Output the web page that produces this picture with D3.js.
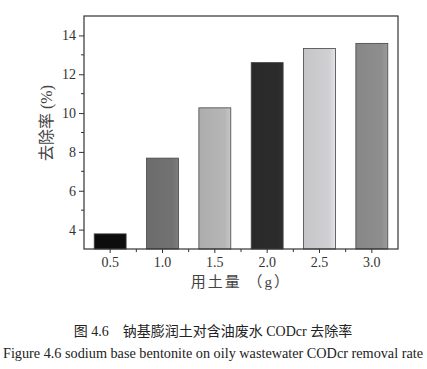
<!DOCTYPE html>
<html><head><meta charset="utf-8">
<script src="https://cdn.jsdelivr.net/npm/d3@7"></script>
<style>body{margin:0;background:#fff}svg{display:block}</style>
</head><body>
<script>
const categories = ["0.5","1.0","1.5","2.0","2.5","3.0"];
const values = [3.78, 7.68, 10.27, 12.6, 13.33, 13.59];
const barColors = ["#0d0d0d","#727272","#b6b6b6","#2b2b2b","#d0d0d3","#8e8e8e"];
const yTicks = [4,6,8,10,12,14];
const yLabel = "去除率 (%)";
const xLabel = "用土量 （g）";
const caption1 = "图 4.6　钠基膨润土对含油废水 CODcr 去除率";
const caption2 = "Figure 4.6 sodium base bentonite on oily wastewater CODcr removal rate";

const W=427,H=369;
const m={l:84,r:398,t:16,b:249};
const serif = "'Liberation Serif','Times New Roman','Noto Sans CJK SC',serif";
const svg=d3.select("body").append("svg").attr("width",W).attr("height",H);
const defs=svg.append("defs");
barColors.forEach((c,i)=>{
  const g=defs.append("linearGradient").attr("id","g"+i).attr("x1","0").attr("x2","1");
  const base=d3.color(c);
  g.append("stop").attr("offset","0").attr("stop-color",base.darker(0.15));
  g.append("stop").attr("offset","0.8").attr("stop-color",base);
  g.append("stop").attr("offset","1").attr("stop-color",base.brighter(0.25));
});
const x=d3.scaleBand().domain(categories).range([m.l,m.r]).paddingInner(0.39).paddingOuter(0.195);
const y=d3.scaleLinear().domain([3,15]).range([m.b,m.t]);

svg.selectAll("rect.bar").data(values).join("rect").attr("class","bar")
  .attr("x",(d,i)=>x(categories[i])).attr("width",x.bandwidth())
  .attr("y",d=>y(d)).attr("height",d=>y(3)-y(d))
  .attr("fill",(d,i)=>`url(#g${i})`).attr("stroke","#444").attr("stroke-width",0.8);

// frame
svg.append("rect").attr("x",m.l).attr("y",m.t).attr("width",m.r-m.l).attr("height",m.b-m.t)
  .attr("fill","none").attr("stroke","#333").attr("stroke-width",1.2);

// y axis
const ya=svg.append("g").attr("transform",`translate(${m.l},0)`)
  .call(d3.axisLeft(y).tickValues(yTicks).tickSize(5).tickPadding(3));
ya.select(".domain").remove();
ya.selectAll("line").attr("stroke","#333");
ya.selectAll("text").attr("font-family",serif).attr("font-size",14).attr("fill","#333");
const minorY=[5,7,9,11,13];
svg.append("g").selectAll("line").data(minorY).join("line")
  .attr("x1",m.l-3).attr("x2",m.l).attr("y1",d=>y(d)).attr("y2",d=>y(d)).attr("stroke","#333");

// x axis
const xa=svg.append("g").attr("transform",`translate(0,${m.b})`)
  .call(d3.axisBottom(x).tickSize(4).tickPadding(4));
xa.select(".domain").remove();
xa.selectAll("line").attr("stroke","#333");
xa.selectAll("text").attr("font-family",serif).attr("font-size",14).attr("fill","#333");
const bounds=categories.slice(1).map(c=>x(c)-x.step()*x.paddingInner()/2);
svg.append("g").selectAll("line").data(bounds).join("line")
  .attr("x1",d=>d).attr("x2",d=>d).attr("y1",m.b).attr("y2",m.b+3).attr("stroke","#333");

svg.append("text").attr("transform",`translate(52,123) rotate(-90)`)
  .attr("text-anchor","middle").attr("font-family",serif).attr("font-size",16).attr("fill","#444").text(yLabel);
svg.append("text").attr("x",241).attr("y",287).attr("text-anchor","middle")
  .attr("font-family",serif).attr("font-size",15).attr("fill","#444").attr("letter-spacing",2).text(xLabel);
svg.append("text").attr("x",213).attr("y",336).attr("text-anchor","middle")
  .attr("font-family",serif).attr("font-size",14).attr("fill","#222").text(caption1);
svg.append("text").attr("x",213).attr("y",358).attr("text-anchor","middle")
  .attr("font-family",serif).attr("font-size",14).attr("fill","#222")
  .attr("textLength",420).attr("lengthAdjust","spacingAndGlyphs").text(caption2);
</script>
</body></html>
